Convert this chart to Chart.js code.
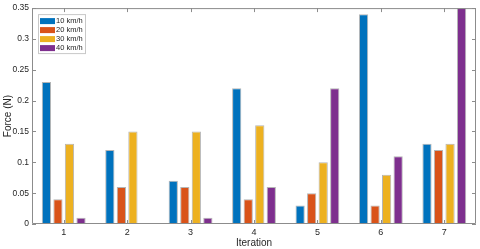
<!DOCTYPE html>
<html>
<head>
<meta charset="utf-8">
<script src="https://cdn.jsdelivr.net/npm/chart.js@4.4.0/dist/chart.umd.min.js"></script>
<style>
    html, body { margin: 0; padding: 0; background: #fff; }
    #wrap { width: 480px; height: 249px; }
</style>
</head>
<body>
<div id="wrap"><canvas id="myChart" width="480" height="249"></canvas></div>
<script>
const iterations = ['1', '2', '3', '4', '5', '6', '7'];
const speeds = ['10 km/h', '20 km/h', '30 km/h', '40 km/h'];
const force10 = [0.23, 0.12, 0.07, 0.22, 0.03, 0.34, 0.13];
const force20 = [0.04, 0.06, 0.06, 0.04, 0.05, 0.03, 0.12];
const force30 = [0.13, 0.15, 0.15, 0.16, 0.10, 0.08, 0.13];
const force40 = [0.01, 0, 0.01, 0.06, 0.22, 0.11, 0.35];
const yTicks = [0, 0.05, 0.1, 0.15, 0.2, 0.25, 0.3, 0.35];

const colors = ['#0072BD', '#D95319', '#EDB120', '#7E2F8E'];
const axisColor = '#8c8c8c';
const textColor = '#262626';
const fontFamily = '"Liberation Sans", Arial, sans-serif';

// MATLAB style box with inward ticks and a legend inside the axes
const boxPlugin = {
    id: 'box',
    afterDraw(chart) {
        const ctx = chart.ctx;
        const a = chart.chartArea;
        const x = chart.scales.x;
        const y = chart.scales.y;
        const t = 4;
        ctx.save();
        ctx.strokeStyle = axisColor;
        ctx.lineWidth = 1;
        ctx.beginPath();
        ctx.rect(a.left + 0.5, a.top + 0.5, a.right - a.left - 1, a.bottom - a.top - 1);
        yTicks.forEach((v) => {
            const py = Math.round(y.getPixelForValue(v)) + 0.5;
            ctx.moveTo(a.left, py);
            ctx.lineTo(a.left + t, py);
            ctx.moveTo(a.right, py);
            ctx.lineTo(a.right - t, py);
        });
        iterations.forEach((c, i) => {
            const px = Math.round(x.getPixelForValue(i)) + 0.5;
            ctx.moveTo(px, a.bottom);
            ctx.lineTo(px, a.bottom - t);
            ctx.moveTo(px, a.top);
            ctx.lineTo(px, a.top + t);
        });
        ctx.stroke();

        // legend
        const lx = a.left + 6;
        const ly = a.top + 6;
        const lw = 47;
        const lh = 39;
        ctx.fillStyle = '#fff';
        ctx.fillRect(lx, ly, lw, lh);
        ctx.strokeStyle = '#c8c8c8';
        ctx.strokeRect(lx + 0.5, ly + 0.5, lw, lh);
        ctx.font = '7.5px ' + fontFamily;
        ctx.textBaseline = 'middle';
        chart.data.datasets.forEach((ds, i) => {
            const ry = ly + 5 + i * 9;
            ctx.fillStyle = ds.backgroundColor;
            ctx.fillRect(lx + 2, ry - 1, 15, 6);
            ctx.fillStyle = textColor;
            ctx.fillText(ds.label, lx + 18, ry + 2);
        });
        ctx.restore();
    },
};

const allData = [force10, force20, force30, force40];

new Chart(document.getElementById('myChart'), {
    type: 'bar',
    data: {
        labels: iterations,
        datasets: speeds.map((s, i) => ({
            label: s,
            data: allData[i],
            backgroundColor: colors[i],
            borderColor: 'rgba(90,90,90,0.45)',
            borderWidth: 1,
            borderSkipped: false,
            categoryPercentage: 0.727,
            barPercentage: 0.8,
        })),
    },
    options: {
        responsive: false,
        animation: false,
        layout: { padding: { top: 6, right: 4, left: 2, bottom: 0 } },
        plugins: {
            legend: { display: false },
            tooltip: { enabled: false },
        },
        scales: {
            x: {
                offset: true,
                grid: { display: false, drawTicks: false },
                border: { display: false },
                ticks: {
                    color: textColor,
                    font: { family: fontFamily, size: 9 },
                    padding: 3,
                    maxRotation: 0,
                },
                title: {
                    display: true,
                    text: 'Iteration',
                    color: textColor,
                    font: { family: fontFamily, size: 10 },
                    padding: { top: 0, bottom: 0 },
                },
                afterFit(scale) {
                    scale.height = 25;
                },
            },
            y: {
                min: 0,
                max: 0.35,
                afterBuildTicks(scale) {
                    scale.ticks = yTicks.map((v) => ({ value: v }));
                },
                grid: { display: false, drawTicks: false },
                border: { display: false },
                ticks: {
                    color: textColor,
                    font: { family: fontFamily, size: 8.5 },
                    padding: 3,
                    callback: (v) => String(v),
                },
                title: {
                    display: true,
                    text: 'Force (N)',
                    color: textColor,
                    font: { family: fontFamily, size: 10 },
                    padding: { top: 0, bottom: 0 },
                },
                afterFit(scale) {
                    scale.width = 30;
                },
            },
        },
    },
    plugins: [boxPlugin],
});
</script>
</body>
</html>
